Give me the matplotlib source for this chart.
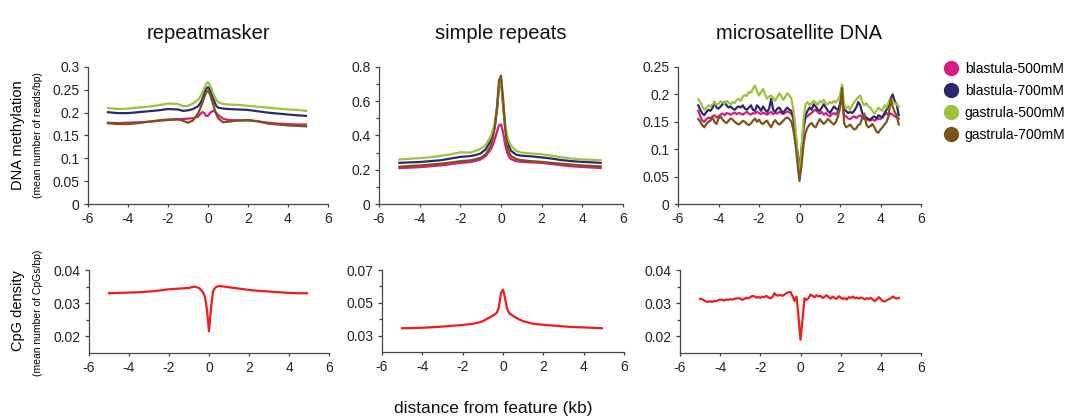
import matplotlib
matplotlib.use("Agg")
import matplotlib.pyplot as plt
import numpy as np
from matplotlib.lines import Line2D
from matplotlib.ticker import MultipleLocator, FixedLocator, FuncFormatter

plt.rcParams['font.family'] = ['Liberation Sans', 'DejaVu Sans']
plt.rcParams['axes.unicode_minus'] = False

# series names and colours
groups = ['blastula-500mM', 'blastula-700mM', 'gastrula-500mM', 'gastrula-700mM']
colors = ['#d81b7f', '#2b2a6e', '#9cc23e', '#7b5418']
titles = ['repeatmasker', 'simple repeats', 'microsatellite DNA']

# x positions (kb) for the smooth profiles
xs = [-5, -4.5, -4, -3.5, -3, -2.5, -2, -1.5, -1.25, -1, -0.75, -0.5, -0.4, -0.3, -0.2, -0.1,
      0, 0.1, 0.2, 0.3, 0.4, 0.5, 0.75, 1, 1.5, 2, 2.5, 3, 3.5, 4, 4.5, 4.9]
# x positions (kb) for the noisy microsatellite profiles
xm = np.round(np.arange(-5.0, 4.95, 0.1), 1)

# repeatmasker methylation
rm_b500 = [.178, .177, .178, .179, .180, .182, .184, .185, .186, .187, .188, .191, .196, .201, .200, .193,
           .193, .199, .203, .204, .200, .195, .187, .184, .183, .183, .181, .178, .176, .175, .174, .174]
rm_b700 = [.201, .199, .199, .201, .203, .205, .208, .207, .204, .205, .208, .214, .220, .228, .240, .252,
           .256, .250, .238, .226, .216, .211, .209, .208, .207, .206, .203, .200, .198, .196, .194, .193]
rm_g500 = [.210, .208, .209, .211, .213, .216, .220, .219, .214, .215, .220, .228, .234, .242, .252, .262,
           .267, .260, .250, .238, .229, .223, .219, .218, .217, .215, .213, .211, .209, .207, .206, .204]
rm_g700 = [.177, .175, .175, .177, .180, .183, .185, .186, .182, .178, .183, .198, .208, .220, .232, .244,
           .248, .240, .226, .212, .198, .188, .179, .180, .183, .184, .181, .176, .174, .172, .171, .170]

# simple repeats methylation
sr_b500 = [.210, .212, .215, .220, .225, .232, .240, .245, .252, .260, .280, .320, .345, .380, .420, .460,
           .465, .420, .350, .300, .275, .262, .250, .246, .243, .240, .233, .226, .220, .216, .213, .210]
sr_b700 = [.240, .243, .245, .250, .255, .265, .275, .280, .286, .295, .320, .370, .405, .460, .550, .680,
           .720, .580, .450, .370, .335, .310, .288, .282, .278, .272, .265, .256, .250, .246, .243, .240]
sr_g500 = [.260, .264, .268, .273, .280, .290, .302, .300, .310, .322, .345, .395, .430, .480, .560, .680,
           .730, .600, .470, .400, .365, .340, .310, .300, .295, .290, .282, .272, .265, .260, .258, .255]
sr_g700 = [.218, .222, .225, .230, .235, .242, .250, .255, .262, .270, .290, .340, .385, .450, .560, .720,
           .750, .620, .450, .340, .300, .280, .262, .256, .250, .246, .240, .235, .230, .225, .222, .220]

# microsatellite methylation
ms_b500 = [0.170, 0.160, 0.152, 0.150, 0.155, 0.158, 0.156, 0.160, 0.162, 0.158,
           0.160, 0.163, 0.165, 0.162, 0.166, 0.165, 0.163, 0.165, 0.167, 0.164,
           0.166, 0.165, 0.163, 0.166, 0.168, 0.165, 0.163, 0.166, 0.165, 0.168,
           0.166, 0.164, 0.167, 0.165, 0.163, 0.166, 0.168, 0.164, 0.166, 0.165,
           0.168, 0.166, 0.164, 0.167, 0.169, 0.167, 0.165, 0.155, 0.130, 0.095,
           0.065, 0.100, 0.140, 0.158, 0.160, 0.164, 0.166, 0.170, 0.172, 0.168,
           0.165, 0.168, 0.163, 0.166, 0.162, 0.160, 0.164, 0.166, 0.163, 0.170,
           0.180, 0.195, 0.162, 0.160, 0.156, 0.155, 0.158, 0.160, 0.157, 0.160,
           0.162, 0.158, 0.155, 0.156, 0.153, 0.152, 0.155, 0.152, 0.154, 0.156,
           0.155, 0.158, 0.163, 0.166, 0.162, 0.165, 0.163, 0.160, 0.158, 0.156]
ms_b700 = [0.180, 0.172, 0.165, 0.162, 0.168, 0.172, 0.170, 0.175, 0.186, 0.176,
           0.174, 0.178, 0.182, 0.186, 0.180, 0.176, 0.178, 0.174, 0.172, 0.176,
           0.178, 0.176, 0.180, 0.174, 0.172, 0.176, 0.180, 0.172, 0.170, 0.180,
           0.176, 0.170, 0.178, 0.172, 0.168, 0.174, 0.192, 0.172, 0.168, 0.174,
           0.176, 0.170, 0.166, 0.172, 0.176, 0.172, 0.170, 0.158, 0.128, 0.085,
           0.050, 0.095, 0.140, 0.162, 0.170, 0.176, 0.172, 0.182, 0.178, 0.172,
           0.170, 0.176, 0.182, 0.176, 0.170, 0.166, 0.172, 0.178, 0.174, 0.172,
           0.182, 0.200, 0.172, 0.170, 0.166, 0.168, 0.166, 0.170, 0.176, 0.186,
           0.180, 0.166, 0.160, 0.158, 0.155, 0.154, 0.158, 0.160, 0.156, 0.162,
           0.160, 0.158, 0.166, 0.172, 0.180, 0.192, 0.200, 0.188, 0.182, 0.162]
ms_g500 = [0.191, 0.186, 0.178, 0.172, 0.176, 0.180, 0.178, 0.182, 0.185, 0.181,
           0.183, 0.187, 0.186, 0.184, 0.188, 0.185, 0.182, 0.186, 0.184, 0.190,
           0.192, 0.188, 0.196, 0.199, 0.197, 0.205, 0.203, 0.210, 0.216, 0.206,
           0.198, 0.204, 0.210, 0.200, 0.192, 0.196, 0.198, 0.194, 0.188, 0.195,
           0.202, 0.197, 0.190, 0.196, 0.202, 0.198, 0.192, 0.172, 0.140, 0.090,
           0.045, 0.100, 0.155, 0.182, 0.186, 0.180, 0.184, 0.188, 0.185, 0.181,
           0.188, 0.185, 0.190, 0.184, 0.182, 0.186, 0.184, 0.188, 0.185, 0.190,
           0.198, 0.218, 0.182, 0.175, 0.178, 0.172, 0.180, 0.186, 0.190, 0.195,
           0.198, 0.186, 0.180, 0.184, 0.178, 0.176, 0.170, 0.165, 0.170, 0.176,
           0.172, 0.170, 0.180, 0.176, 0.186, 0.192, 0.188, 0.184, 0.182, 0.178]
ms_g700 = [0.155, 0.150, 0.144, 0.140, 0.146, 0.150, 0.152, 0.158, 0.150, 0.146,
           0.156, 0.160, 0.154, 0.150, 0.148, 0.152, 0.156, 0.154, 0.150, 0.147,
           0.145, 0.148, 0.152, 0.150, 0.146, 0.144, 0.147, 0.152, 0.156, 0.150,
           0.154, 0.148, 0.146, 0.150, 0.152, 0.145, 0.140, 0.148, 0.153, 0.148,
           0.145, 0.148, 0.152, 0.156, 0.158, 0.155, 0.150, 0.135, 0.110, 0.075,
           0.042, 0.070, 0.110, 0.130, 0.140, 0.145, 0.148, 0.142, 0.140, 0.148,
           0.155, 0.150, 0.146, 0.150, 0.155, 0.152, 0.148, 0.145, 0.150, 0.160,
           0.175, 0.212, 0.148, 0.140, 0.142, 0.145, 0.140, 0.136, 0.138, 0.144,
           0.146, 0.158, 0.165, 0.145, 0.140, 0.142, 0.146, 0.140, 0.132, 0.130,
           0.136, 0.140, 0.145, 0.150, 0.160, 0.192, 0.178, 0.168, 0.162, 0.145]

# CpG density
cpg_rm = [.0330, .0331, .0332, .0333, .0335, .0338, .0342, .0344, .0345, .0346, .0350, .0346, .0340, .0333,
          .0318, .0280, .0215, .0285, .0335, .0346, .0350, .0352, .0350, .0348, .0344, .0340, .0337, .0335,
          .0333, .0331, .0330, .0330]
cpg_sr = [.0345, .0346, .0348, .0351, .0355, .0360, .0365, .0372, .0378, .0388, .0405, .0422, .0430, .0440,
          .0475, .0560, .0580, .0530, .0465, .0438, .0428, .0420, .0402, .0388, .0372, .0366, .0361, .0356,
          .0352, .0350, .0347, .0345]
cpg_ms = [0.0313, 0.0312, 0.0308, 0.0305, 0.0304, 0.0306, 0.0304, 0.0307, 0.0306, 0.0309,
          0.0311, 0.0310, 0.0308, 0.0311, 0.0310, 0.0312, 0.0311, 0.0313, 0.0314, 0.0315,
          0.0314, 0.0310, 0.0313, 0.0316, 0.0315, 0.0318, 0.0322, 0.0321, 0.0317, 0.0319,
          0.0316, 0.0320, 0.0318, 0.0322, 0.0317, 0.0315, 0.0318, 0.0330, 0.0324, 0.0323,
          0.0325, 0.0322, 0.0326, 0.0330, 0.0333, 0.0334, 0.0322, 0.0307, 0.0320, 0.0260,
          0.0190, 0.0250, 0.0315, 0.0310, 0.0315, 0.0326, 0.0322, 0.0318, 0.0324, 0.0320,
          0.0322, 0.0316, 0.0319, 0.0324, 0.0318, 0.0314, 0.0320, 0.0316, 0.0313, 0.0321,
          0.0317, 0.0313, 0.0315, 0.0311, 0.0318, 0.0316, 0.0320, 0.0315, 0.0317, 0.0314,
          0.0317, 0.0315, 0.0312, 0.0315, 0.0313, 0.0316, 0.0311, 0.0306, 0.0312, 0.0318,
          0.0312, 0.0306, 0.0305, 0.0309, 0.0312, 0.0315, 0.0320, 0.0316, 0.0314, 0.0316]

meth = [(xs, [rm_b500, rm_b700, rm_g500, rm_g700]),
        (xs, [sr_b500, sr_b700, sr_g500, sr_g700]),
        (xm, [ms_b500, ms_b700, ms_g500, ms_g700])]
cpg = [(xs, cpg_rm), (xs, cpg_sr), (xm, cpg_ms)]

W, H = 1065, 419
fig = plt.figure(figsize=(W / 100, H / 100), dpi=100)

def box(x0, x1, ytop, ybot):
    return [x0 / W, 1 - ybot / H, (x1 - x0) / W, (ybot - ytop) / H]

top_boxes = [box(88, 328, 67, 204), box(379, 623, 67, 204), box(678, 921, 67, 204)]
bot_boxes = [box(89, 329, 270, 353), box(382, 624, 270, 352), box(680, 921, 270, 353)]
# (ymin, ymax, labelled ticks, minor ticks)
top_lims = [(0, 0.3, np.arange(0, 0.31, 0.05), []),
            (0, 0.8, np.arange(0, 0.81, 0.2), np.arange(0.1, 0.8, 0.2)),
            (0, 0.25, np.arange(0, 0.26, 0.05), [])]
bot_lims = [(0.015, 0.04, [0.02, 0.03, 0.04], [0.025, 0.035]),
            (0.02, 0.07, [0.03, 0.05, 0.07], [0.04, 0.06]),
            (0.015, 0.04, [0.02, 0.03, 0.04], [0.025, 0.035])]

fmt = FuncFormatter(lambda v, p: '%g' % round(v, 4))

def style(ax, lim):
    lo, hi, major, minor = lim
    ax.set_xlim(-6, 6)
    ax.set_ylim(lo, hi)
    ax.xaxis.set_major_locator(MultipleLocator(2))
    ax.yaxis.set_major_locator(FixedLocator(major))
    ax.yaxis.set_minor_locator(FixedLocator(minor))
    ax.yaxis.set_major_formatter(fmt)
    for s in ['top', 'right']:
        ax.spines[s].set_visible(False)
    for s in ['left', 'bottom']:
        ax.spines[s].set_color('#444444')
        ax.spines[s].set_linewidth(0.9)
    ax.tick_params(which='both', direction='out', length=3, width=0.9, color='#444444',
                   labelsize=10, labelcolor='#222222', pad=3)
    ax.tick_params(axis='x', length=2.5)
    ax.tick_params(which='minor', length=2.5)

for i in range(3):
    ax = fig.add_axes(top_boxes[i])
    x, ser = meth[i]
    for y, c, g in zip(ser, colors, groups):
        ax.plot(x, y, color=c, lw=1.6, label=g)
    style(ax, top_lims[i])
    ax.set_title(titles[i], fontsize=14.5, pad=20, color='#111111')

    axb = fig.add_axes(bot_boxes[i])
    x, y = cpg[i]
    axb.plot(x, y, color='#ee1c1c', lw=1.6)
    style(axb, bot_lims[i])

fig.text(18 / W, 1 - 135 / H, 'DNA methylation', rotation=90, ha='center', va='center', fontsize=10.5)
fig.text(38 / W, 1 - 135 / H, '(mean number of reads/bp)', rotation=90, ha='center', va='center', fontsize=7.5)
fig.text(18 / W, 1 - 311 / H, 'CpG density', rotation=90, ha='center', va='center', fontsize=10.5)
fig.text(38 / W, 1 - 313 / H, '(mean number of CpGs/bp)', rotation=90, ha='center', va='center', fontsize=7.5)
fig.text(493 / W, 1 - 408 / H, 'distance from feature (kb)', ha='center', va='center', fontsize=12.5,
         color='#111111')

handles = [Line2D([], [], ls='none', marker='o', markersize=10, color=c) for c in colors]
fig.legend(handles, groups, loc='upper left', bbox_to_anchor=(937 / W, 1 - 56 / H), frameon=False,
           fontsize=10, handletextpad=0.4, labelspacing=0.58, borderaxespad=0, handlelength=1.2)

fig.savefig('out.png', dpi=100)
